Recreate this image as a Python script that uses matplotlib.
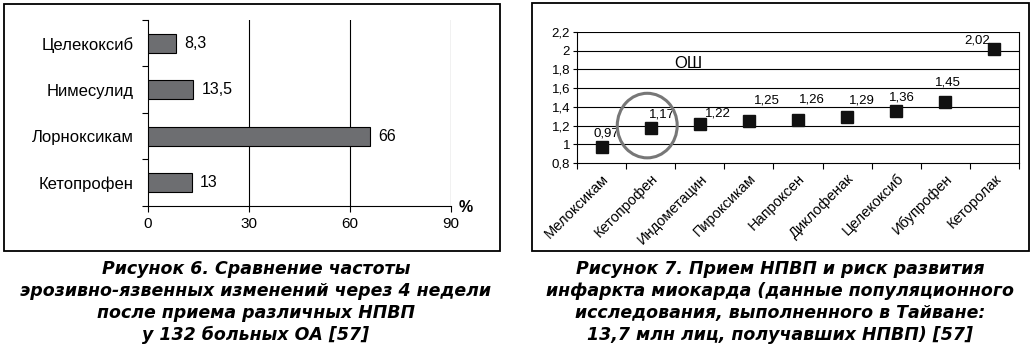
import matplotlib
matplotlib.use("Agg")
import matplotlib.pyplot as plt
from matplotlib.patches import Rectangle, Ellipse

plt.rcParams['font.family'] = ['Liberation Sans', 'DejaVu Sans']

# --- Рисунок 6 ---
drugs6 = ['Кетопрофен', 'Лорноксикам', 'Нимесулид', 'Целекоксиб']
freq6 = [13, 66, 13.5, 8.3]
freq6_labels = ['13', '66', '13,5', '8,3']
xticks6 = [0, 30, 60, 90]

# --- Рисунок 7 ---
drugs7 = ['Мелоксикам', 'Кетопрофен', 'Индометацин', 'Пироксикам', 'Напроксен',
          'Диклофенак', 'Целекоксиб', 'Ибупрофен', 'Кеторолак']
or7 = [0.97, 1.17, 1.22, 1.25, 1.26, 1.29, 1.36, 1.45, 2.02]
or7_labels = ['0,97', '1,17', '1,22', '1,25', '1,26', '1,29', '1,36', '1,45', '2,02']
yticks7 = [0.8, 1, 1.2, 1.4, 1.6, 1.8, 2, 2.2]
ytick7_labels = ['0,8', '1', '1,2', '1,4', '1,6', '1,8', '2', '2,2']
# label offsets in pixels (dx, dy)
lab_off = [(5, 14), (11, 14), (18, 10), (18, 20), (14, 20), (15, 17), (6, 13), (3, 20), (-17, 8)]

W, H = 1034, 357
fig = plt.figure(figsize=(W / 100, H / 100), dpi=100)

def fx(px):
    return px / W

def fy(py):
    return 1 - py / H

# frames
fig.patches.append(Rectangle((fx(4), fy(251)), fx(500 - 4), (251 - 4) / H,
                             transform=fig.transFigure, fill=False, lw=1.3, ec='black'))
fig.patches.append(Rectangle((fx(532), fy(251)), fx(1029 - 532), (251 - 3) / H,
                             transform=fig.transFigure, fill=False, lw=1.3, ec='black'))

# ---------- left chart ----------
ax1 = fig.add_axes([fx(148), fy(206), fx(451 - 148), (206 - 20) / H])
ypos = range(len(drugs6))
ax1.barh(ypos, freq6, height=0.41, color='#6d6e71', edgecolor='black', lw=0.8, zorder=3)
for y, v, t in zip(ypos, freq6, freq6_labels):
    ax1.annotate(t, (v, y), xytext=(8, 0), textcoords='offset pixels',
                 va='center', ha='left', fontsize=11.5)
ax1.set_xlim(0, 90)
ax1.set_ylim(-0.5, len(drugs6) - 0.5)
ax1.set_xticks(xticks6)
ax1.set_xticklabels([str(v) for v in xticks6], fontsize=11)
ax1.set_yticks([y - 0.5 for y in range(len(drugs6) + 1)])
ax1.set_yticklabels([])
ax1.set_yticks(list(ypos), minor=True)
ax1.set_yticklabels(drugs6, minor=True, fontsize=12)
ax1.tick_params(axis='y', which='minor', length=0, pad=10)
ax1.tick_params(axis='y', which='major', length=4, width=0.8)
ax1.tick_params(axis='x', length=4, width=0.8, pad=4)
for v in xticks6[1:]:
    ax1.axvline(v, color='black', lw=0.8, zorder=1)
for s in ['top', 'right']:
    ax1.spines[s].set_visible(False)
for s in ['left', 'bottom']:
    ax1.spines[s].set_linewidth(0.8)
ax1.text(1.025, -0.01, '%', transform=ax1.transAxes, fontsize=11.5, fontweight='bold',
         ha='left', va='center')

# ---------- right chart ----------
ax2 = fig.add_axes([fx(577), fy(163), fx(1019 - 577), (163 - 32) / H])
xpos = list(range(len(drugs7)))
ax2.plot(xpos, or7, ls='none', marker='s', ms=8.5, color='#111111', zorder=3)
for x, v, t, (dx, dy) in zip(xpos, or7, or7_labels, lab_off):
    ax2.annotate(t, (x, v), xytext=(dx, dy), textcoords='offset pixels',
                 ha='center', va='center', fontsize=9.5)
ax2.set_xlim(-0.5, len(drugs7) - 0.5)
ax2.set_ylim(0.8, 2.2)
ax2.set_yticks(yticks7)
ax2.set_yticklabels(ytick7_labels, fontsize=9.5)
for v in yticks7[1:]:
    ax2.axhline(v, color='black', lw=0.8, zorder=1)
ax2.set_xticks([x - 0.5 for x in range(len(drugs7) + 1)])
ax2.set_xticklabels([])
ax2.set_xticks(xpos, minor=True)
ax2.set_xticklabels(drugs7, minor=True, rotation=45, ha='right',
                    rotation_mode='anchor', fontsize=10.5)
ax2.tick_params(axis='x', which='minor', length=0, pad=6)
ax2.tick_params(axis='x', which='major', length=4, width=0.8)
ax2.tick_params(axis='y', length=3, width=0.8, pad=2)
ax2.spines['top'].set_visible(False)
for s in ['left', 'bottom', 'right']:
    ax2.spines[s].set_linewidth(0.8)
ax2.text(1.77, 1.86, 'ОШ', fontsize=12, ha='center', va='center')
ax2.add_patch(Ellipse((xpos[1] - 0.07, or7[1] + 0.03), 1.22, 0.69, fill=False,
                      ec='#777777', lw=2.2, zorder=4))

# ---------- captions ----------
cap_font = dict(family=['DejaVu Sans'], fontsize=12.5,
                fontweight='bold', fontstyle='italic', ha='center', va='center',
                linespacing=1.3)
fig.text(fx(256), fy(302), 'Рисунок 6. Сравнение частоты\n'
         'эрозивно-язвенных изменений через 4 недели\n'
         'после приема различных НПВП\n'
         'у 132 больных ОА [57]', **cap_font)
fig.text(fx(780), fy(302), 'Рисунок 7. Прием НПВП и риск развития\n'
         'инфаркта миокарда (данные популяционного\n'
         'исследования, выполненного в Тайване:\n'
         '13,7 млн лиц, получавших НПВП) [57]', **cap_font)

fig.savefig('out.png', dpi=100)
